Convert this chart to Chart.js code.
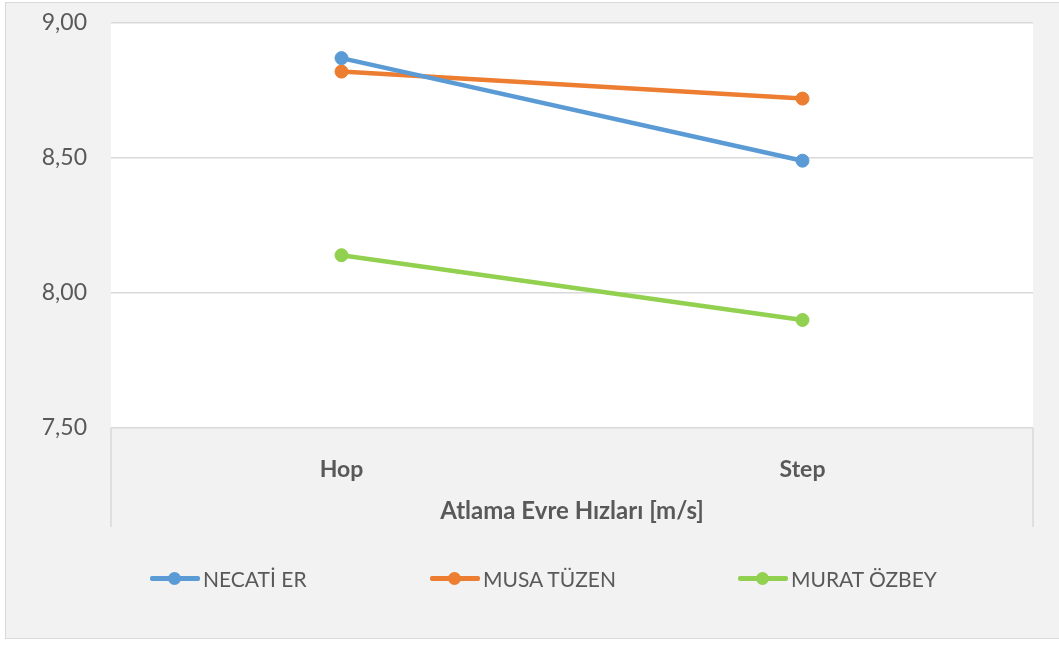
<!DOCTYPE html>
<html>
<head>
<meta charset="utf-8">
<script src="https://cdn.jsdelivr.net/npm/chart.js@4/dist/chart.umd.min.js"></script>
<style>
  html, body { margin: 0; padding: 0; background: #ffffff; }
  #frame { position: absolute; left: 5px; top: 2px; width: 1060px; height: 637px;
           background: #f2f2f2; border: 1px solid #d9d9d9; box-sizing: border-box; }
  #wrap { position: absolute; left: 0; top: 0; width: 1059px; height: 646px; }
  #legend { position: absolute; left: 0; top: 0; width: 1059px; height: 646px; pointer-events: none;
            font-family: Lato, "Open Sans", sans-serif; color: #595959; font-size: 21px; }
  .item { position: absolute; top: 566px; height: 24px; display: flex; align-items: center; white-space: nowrap; }
  .sym { position: relative; width: 50px; height: 24px; margin-right: 3px; }
  .sym .ln { position: absolute; left: 0; right: 0; top: 10px; height: 4.5px; border-radius: 2px; }
  .sym .pt { position: absolute; left: 18px; top: 5.5px; width: 13px; height: 13px; border-radius: 50%; }
</style>
</head>
<body>
<div id="frame"></div>
<div id="wrap"><canvas id="c"></canvas></div>
<div id="legend"></div>
<script>
// ---- data ----
const categories = ['Hop', 'Step'];
const seriesNames = ['NECATİ ER', 'MUSA TÜZEN', 'MURAT ÖZBEY'];
const necatiEr = [8.87, 8.49];
const musaTuzen = [8.82, 8.72];
const muratOzbey = [8.14, 7.90];
const yTicks = [7.5, 8.0, 8.5, 9.0];
const xAxisTitle = 'Atlama Evre Hızları [m/s]';

// ---- styles ----
const colors = ['#5b9bd5', '#ed7d31', '#92d050'];
const legendLeft = [150, 430, 738];
const textColor = '#595959';
const gridColor = '#d9d9d9';
const fontFamily = 'Lato, "Open Sans", sans-serif';

const seriesValues = [necatiEr, musaTuzen, muratOzbey];
const datasets = seriesNames.map((name, i) => ({
  label: name,
  data: seriesValues[i],
  borderColor: colors[i],
  backgroundColor: colors[i],
  pointBackgroundColor: colors[i],
  pointBorderColor: colors[i],
  borderWidth: 4.5,
  pointRadius: 6.5,
  pointBorderWidth: 1,
  tension: 0,
  borderCapStyle: 'round'
}));

const plotDeco = {
  id: 'plotDeco',
  beforeDraw(chart) {
    const {ctx, chartArea: a} = chart;
    ctx.save();
    ctx.fillStyle = '#ffffff';
    ctx.fillRect(a.left, a.top, a.right - a.left, a.bottom - a.top);
    ctx.restore();
  },
  afterDraw(chart) {
    const {ctx, chartArea: a} = chart;
    const xs = chart.scales.x;
    ctx.save();
    ctx.strokeStyle = gridColor;
    ctx.lineWidth = 1.5;
    ctx.beginPath();
    [a.left, a.right].forEach(x => {
      ctx.moveTo(x, a.bottom);
      ctx.lineTo(x, xs.bottom);
    });
    ctx.stroke();
    ctx.restore();
  }
};

new Chart(document.getElementById('c'), {
  type: 'line',
  data: { labels: categories, datasets },
  plugins: [plotDeco],
  options: {
    responsive: true,
    maintainAspectRatio: false,
    animation: false,
    layout: { padding: { left: 0, top: 23, right: 26, bottom: 119 } },
    plugins: { legend: { display: false }, tooltip: { enabled: false } },
    scales: {
      x: {
        type: 'category',
        offset: true,
        border: { display: false },
        grid: { display: false },
        ticks: { color: textColor, padding: 20, font: { family: fontFamily, size: 23, weight: 'bold' } },
        title: { display: true, text: xAxisTitle, color: textColor, padding: { top: 0, bottom: 1 },
                 font: { family: fontFamily, size: 24, weight: 'bold' } },
        afterFit(scale) { scale.height = 99; }
      },
      y: {
        min: yTicks[0],
        max: yTicks[yTicks.length - 1],
        border: { display: false },
        grid: { color: gridColor, lineWidth: 1.5, drawTicks: true, tickLength: 24, tickColor: 'rgba(0,0,0,0)' },
        afterBuildTicks(scale) { scale.ticks = yTicks.map(v => ({ value: v })); },
        ticks: {
          color: textColor, padding: 0,
          font: { family: fontFamily, size: 23 },
          callback: v => Number(v).toFixed(2).replace('.', ',')
        },
        afterFit(scale) { scale.width = 111; }
      }
    }
  }
});

// ---- legend (HTML, real text) ----
const legend = document.getElementById('legend');
seriesNames.forEach((name, i) => {
  const item = document.createElement('div');
  item.className = 'item';
  item.style.left = legendLeft[i] + 'px';
  const sym = document.createElement('div');
  sym.className = 'sym';
  const ln = document.createElement('div'); ln.className = 'ln'; ln.style.background = colors[i];
  const pt = document.createElement('div'); pt.className = 'pt'; pt.style.background = colors[i];
  sym.appendChild(ln); sym.appendChild(pt);
  const tx = document.createElement('span'); tx.textContent = name;
  item.appendChild(sym); item.appendChild(tx);
  legend.appendChild(item);
});
</script>
</body>
</html>
